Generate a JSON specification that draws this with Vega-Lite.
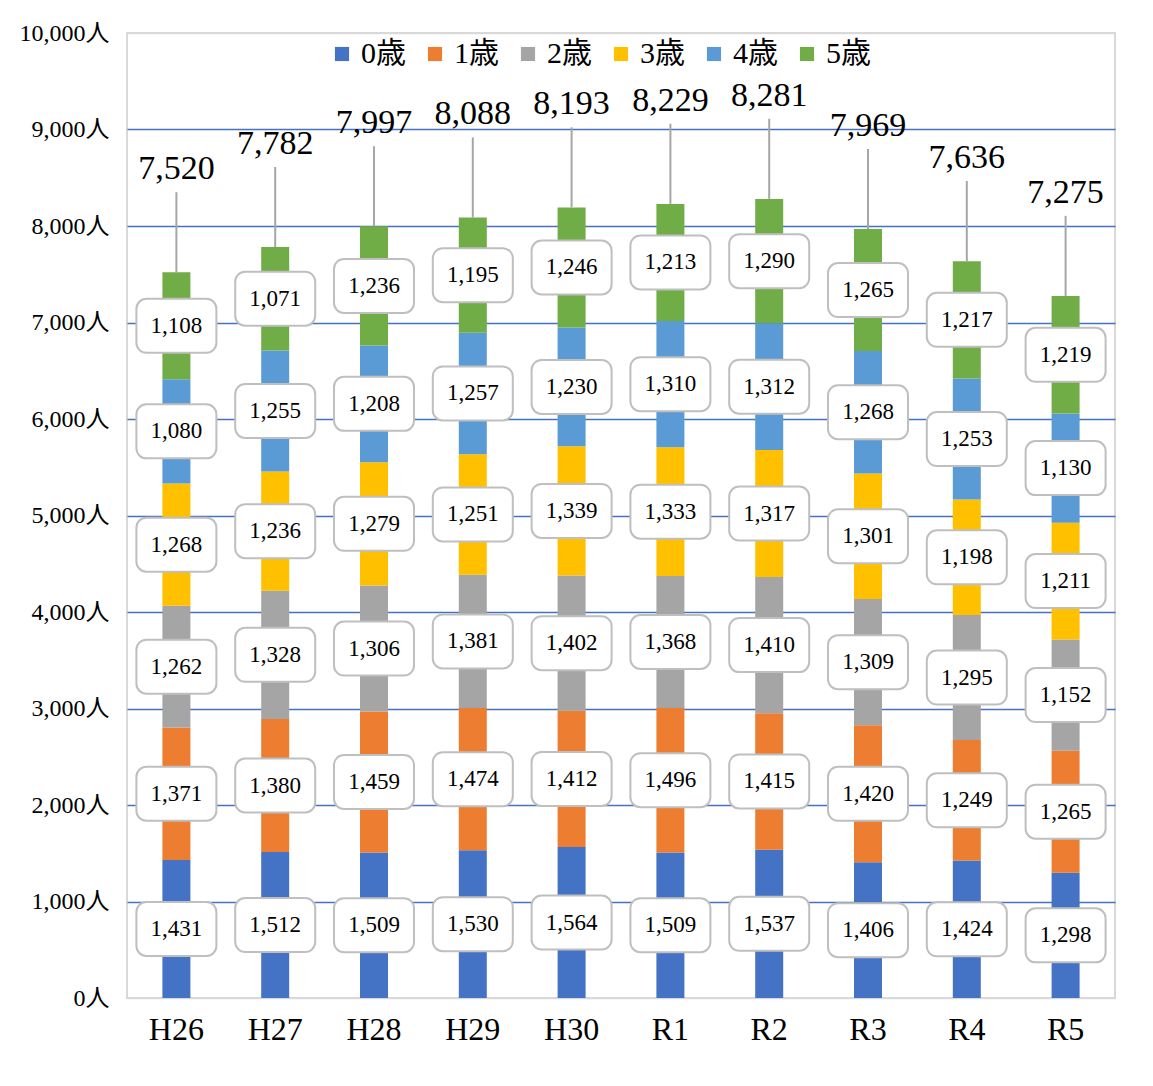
{
  "$schema": "https://vega.github.io/schema/vega-lite/v6.json",
  "autosize": {"type": "none"},
  "padding": {"left": 127, "top": 33, "right": 38, "bottom": 88},
  "width": 988,
  "height": 965,
  "background": "white",
  "config": {
    "font": "Liberation Serif, Noto Sans CJK JP",
    "axis": {"labelFont": "Liberation Serif, Noto Sans CJK JP"},
    "legend": {"labelFont": "Liberation Serif, Noto Sans CJK JP"},
    "text": {"font": "Liberation Serif, Noto Sans CJK JP"},
    "view": {"stroke": "#d9d9d9", "strokeWidth": 2}
  },
  "data": {
    "values": [
      {"year": "H26", "age": "0歳", "count": 1431}, {"year": "H26", "age": "1歳", "count": 1371}, {"year": "H26", "age": "2歳", "count": 1262}, {"year": "H26", "age": "3歳", "count": 1268}, {"year": "H26", "age": "4歳", "count": 1080}, {"year": "H26", "age": "5歳", "count": 1108},
      {"year": "H27", "age": "0歳", "count": 1512}, {"year": "H27", "age": "1歳", "count": 1380}, {"year": "H27", "age": "2歳", "count": 1328}, {"year": "H27", "age": "3歳", "count": 1236}, {"year": "H27", "age": "4歳", "count": 1255}, {"year": "H27", "age": "5歳", "count": 1071},
      {"year": "H28", "age": "0歳", "count": 1509}, {"year": "H28", "age": "1歳", "count": 1459}, {"year": "H28", "age": "2歳", "count": 1306}, {"year": "H28", "age": "3歳", "count": 1279}, {"year": "H28", "age": "4歳", "count": 1208}, {"year": "H28", "age": "5歳", "count": 1236},
      {"year": "H29", "age": "0歳", "count": 1530}, {"year": "H29", "age": "1歳", "count": 1474}, {"year": "H29", "age": "2歳", "count": 1381}, {"year": "H29", "age": "3歳", "count": 1251}, {"year": "H29", "age": "4歳", "count": 1257}, {"year": "H29", "age": "5歳", "count": 1195},
      {"year": "H30", "age": "0歳", "count": 1564}, {"year": "H30", "age": "1歳", "count": 1412}, {"year": "H30", "age": "2歳", "count": 1402}, {"year": "H30", "age": "3歳", "count": 1339}, {"year": "H30", "age": "4歳", "count": 1230}, {"year": "H30", "age": "5歳", "count": 1246},
      {"year": "R1", "age": "0歳", "count": 1509}, {"year": "R1", "age": "1歳", "count": 1496}, {"year": "R1", "age": "2歳", "count": 1368}, {"year": "R1", "age": "3歳", "count": 1333}, {"year": "R1", "age": "4歳", "count": 1310}, {"year": "R1", "age": "5歳", "count": 1213},
      {"year": "R2", "age": "0歳", "count": 1537}, {"year": "R2", "age": "1歳", "count": 1415}, {"year": "R2", "age": "2歳", "count": 1410}, {"year": "R2", "age": "3歳", "count": 1317}, {"year": "R2", "age": "4歳", "count": 1312}, {"year": "R2", "age": "5歳", "count": 1290},
      {"year": "R3", "age": "0歳", "count": 1406}, {"year": "R3", "age": "1歳", "count": 1420}, {"year": "R3", "age": "2歳", "count": 1309}, {"year": "R3", "age": "3歳", "count": 1301}, {"year": "R3", "age": "4歳", "count": 1268}, {"year": "R3", "age": "5歳", "count": 1265},
      {"year": "R4", "age": "0歳", "count": 1424}, {"year": "R4", "age": "1歳", "count": 1249}, {"year": "R4", "age": "2歳", "count": 1295}, {"year": "R4", "age": "3歳", "count": 1198}, {"year": "R4", "age": "4歳", "count": 1253}, {"year": "R4", "age": "5歳", "count": 1217},
      {"year": "R5", "age": "0歳", "count": 1298}, {"year": "R5", "age": "1歳", "count": 1265}, {"year": "R5", "age": "2歳", "count": 1152}, {"year": "R5", "age": "3歳", "count": 1211}, {"year": "R5", "age": "4歳", "count": 1130}, {"year": "R5", "age": "5歳", "count": 1219}
    ]
  },
  "encoding": {
    "x": {
      "field": "year",
      "type": "nominal",
      "sort": null,
      "scale": {"paddingInner": 0.2, "paddingOuter": 0.1},
      "axis": {
        "title": null,
        "labelAngle": 0,
        "labelFontSize": 32,
        "labelColor": "#000000",
        "labelPadding": 16,
        "ticks": false,
        "domain": false
      }
    }
  },
  "layer": [
    {
      "transform": [
        {"stack": "count", "groupby": ["year"], "sort": [{"field": "age", "order": "ascending"}], "as": ["y0", "y1"]}
      ],
      "layer": [
        {
          "mark": {"type": "bar", "width": 28},
          "encoding": {
            "y": {
              "field": "y0",
              "type": "quantitative",
              "scale": {"domain": [0, 10000], "nice": false},
              "axis": {
                "title": null,
                "values": [0, 1000, 2000, 3000, 4000, 5000, 6000, 7000, 8000, 9000, 10000],
                "labelExpr": "format(datum.value, ',') + '人'",
                "labelFontSize": 24,
                "labelColor": "#000000",
                "labelPadding": 18,
                "ticks": false,
                "domain": false,
                "grid": true,
                "gridColor": {"condition": {"test": "datum.value == 0 || datum.value == 10000", "value": "#d9d9d9"}, "value": "#4472C4"},
                "gridWidth": 1.5
              }
            },
            "y2": {"field": "y1"},
            "color": {
              "field": "age",
              "type": "nominal",
              "scale": {
                "domain": ["0歳", "1歳", "2歳", "3歳", "4歳", "5歳"],
                "range": ["#4472C4", "#ED7D31", "#A5A5A5", "#FFC000", "#5B9BD5", "#70AD47"]
              },
              "legend": {
                "title": null,
                "orient": "none",
                "direction": "horizontal",
                "columns": 6,
                "legendX": 200,
                "legendY": 6,
                "symbolType": "square",
                "symbolSize": 200,
                "symbolStrokeWidth": 0,
                "labelFontSize": 30,
                "labelColor": "#000000",
                "labelOffset": 4,
                "columnPadding": 14
              }
            }
          }
        },
        {
          "transform": [{"calculate": "(datum.y0 + datum.y1) / 2", "as": "mid"}],
          "mark": {"type": "rect", "width": 80, "height": 54, "cornerRadius": 10, "fill": "white", "stroke": "#bfbfbf", "strokeWidth": 2},
          "encoding": {
            "y": {"field": "mid", "type": "quantitative"}
          }
        },
        {
          "transform": [{"calculate": "(datum.y0 + datum.y1) / 2", "as": "mid"}],
          "mark": {"type": "text", "fontSize": 23, "color": "#000000", "baseline": "middle", "align": "center"},
          "encoding": {
            "y": {"field": "mid", "type": "quantitative"},
            "text": {"field": "count", "type": "quantitative", "format": ","}
          }
        }
      ]
    },
    {
      "transform": [
        {"aggregate": [{"op": "sum", "field": "count", "as": "total"}], "groupby": ["year"]},
        {"calculate": "datum.total + 830", "as": "lineTop"}
      ],
      "layer": [
        {
          "mark": {"type": "rule", "color": "#a6a6a6", "strokeWidth": 2},
          "encoding": {
            "y": {"field": "total", "type": "quantitative"},
            "y2": {"field": "lineTop"}
          }
        },
        {
          "mark": {"type": "text", "fontSize": 34, "color": "#000000", "baseline": "bottom", "align": "center", "dy": -6},
          "encoding": {
            "y": {"field": "lineTop", "type": "quantitative"},
            "text": {"field": "total", "type": "quantitative", "format": ","}
          }
        }
      ]
    }
  ]
}
